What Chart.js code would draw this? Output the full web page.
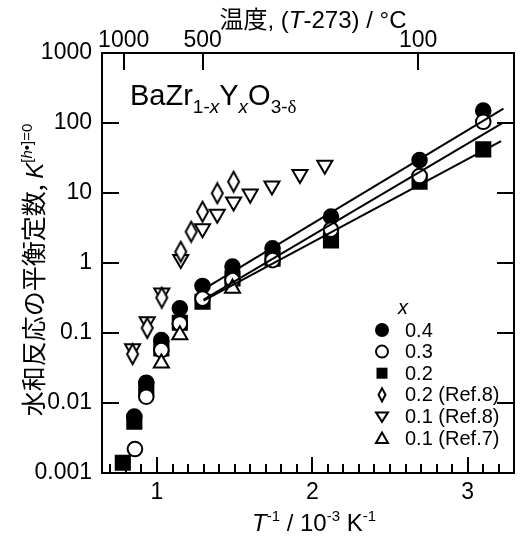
<!DOCTYPE html>
<html>
<head>
<meta charset="utf-8">
<script src="https://cdn.jsdelivr.net/npm/chart.js@4.4.1/dist/chart.umd.min.js"></script>
<style>
  html, body { margin: 0; padding: 0; background: #fff; }
  canvas { display: block; }
</style>
</head>
<body>
<canvas id="chart" width="526" height="538"></canvas>
<script>
const F = '"Liberation Sans", Arial, sans-serif';
const CJK = '"Noto Sans CJK JP", "Liberation Sans", sans-serif';

// axes
const xMin = 0.646, xMax = 3.298;
const xMajor = [1, 2, 3];
const topTempC = [1000, 500, 100];
const yDecades = [0.001, 0.01, 0.1, 1, 10, 100, 1000];

// data: x = 1000/T, K = equilibrium constant
const x04 = [0.854, 0.931, 1.028, 1.147, 1.293, 1.486, 1.744, 2.12, 2.69, 3.10];
const k04 = [0.0064, 0.0195, 0.079, 0.225, 0.47, 0.89, 1.62, 4.6, 29.6, 150];
const x03 = [0.858, 0.931, 1.028, 1.147, 1.293, 1.486, 1.744, 2.12, 2.69, 3.10];
const k03 = [0.0022, 0.0123, 0.057, 0.137, 0.31, 0.57, 1.10, 3.0, 17.5, 104];
const x02 = [0.78, 0.854, 0.931, 1.028, 1.147, 1.293, 1.486, 1.744, 2.12, 2.69, 3.10];
const k02 = [0.0014, 0.0054, 0.016, 0.06, 0.14, 0.28, 0.6, 1.15, 2.1, 14.5, 42];
const x02r8 = [0.843, 0.937, 1.031, 1.153, 1.22, 1.293, 1.388, 1.493];
const k02r8 = [0.05, 0.118, 0.32, 1.45, 2.8, 5.4, 9.9, 14.5];
const x01r8 = [0.843, 0.937, 1.031, 1.153, 1.293, 1.388, 1.493, 1.60, 1.74, 1.92, 2.08];
const k01r8 = [0.06, 0.145, 0.376, 1.13, 3.1, 5.0, 7.5, 9.7, 12.7, 18.5, 25];
const x01r7 = [1.028, 1.147, 1.486];
const k01r7 = [0.037, 0.094, 0.435];

// fitted lines (end points)
const fitX04 = [1.32, 3.23], fitK04 = [0.45, 160];
const fitX03 = [1.30, 3.22], fitK03 = [0.30, 99];
const fitX02 = [1.30, 3.215], fitK02 = [0.29, 55];

const pts = (xs, ks) => xs.map((x, i) => ({ x: x, y: ks[i] }));

function diamondImg(w, h, lw) {
  const c = document.createElement('canvas');
  c.width = w + lw * 2; c.height = h + lw * 2;
  const g = c.getContext('2d');
  const cx = c.width / 2, cy = c.height / 2;
  g.beginPath();
  g.moveTo(cx, cy - h / 2); g.lineTo(cx + w / 2, cy);
  g.lineTo(cx, cy + h / 2); g.lineTo(cx - w / 2, cy);
  g.closePath();
  g.fillStyle = '#fff'; g.fill();
  g.lineWidth = lw; g.strokeStyle = '#000'; g.stroke();
  return c;
}

const pointSet = (label, data, style, fill, radius, rot, order) => ({
  type: 'scatter', label: label, data: data, order: order,
  pointStyle: style, pointRadius: radius, pointRotation: rot || 0,
  backgroundColor: fill, borderColor: '#000', pointBorderWidth: 2, borderWidth: 2
});
const fitLine = (data) => ({
  type: 'line', data: data, order: 0, showLine: true, pointRadius: 0,
  borderColor: '#000', borderWidth: 2, fill: false
});

// legend rows: [marker, label]
const legendRows = [
  ['circleFilled', '0.4'], ['circleOpen', '0.3'], ['square', '0.2'],
  ['diamond', '0.2 (Ref.8)'], ['triDown', '0.1 (Ref.8)'], ['triUp', '0.1 (Ref.7)']
];

function drawMarker(ctx, kind, x, y) {
  ctx.save();
  ctx.lineWidth = 2; ctx.strokeStyle = '#000';
  ctx.beginPath();
  if (kind === 'circleFilled' || kind === 'circleOpen') {
    ctx.arc(x, y, 6, 0, Math.PI * 2);
    ctx.fillStyle = kind === 'circleFilled' ? '#000' : '#fff';
    ctx.fill(); ctx.stroke();
  } else if (kind === 'square') {
    ctx.fillStyle = '#000';
    ctx.fillRect(x - 5.5, y - 5.5, 11, 11);
  } else if (kind === 'diamond') {
    ctx.moveTo(x, y - 6.5); ctx.lineTo(x + 3.5, y); ctx.lineTo(x, y + 6.5); ctx.lineTo(x - 3.5, y);
    ctx.closePath(); ctx.stroke();
  } else if (kind === 'triDown') {
    ctx.moveTo(x - 6, y - 4); ctx.lineTo(x + 6, y - 4); ctx.lineTo(x, y + 5.5);
    ctx.closePath(); ctx.stroke();
  } else {
    ctx.moveTo(x - 6, y + 5); ctx.lineTo(x + 6, y + 5); ctx.lineTo(x, y - 5.5);
    ctx.closePath(); ctx.stroke();
  }
  ctx.restore();
}

// mixed-style text: runs = [text, font, dy]
function drawRuns(ctx, runs, x, y, align) {
  let w = 0;
  runs.forEach(r => { ctx.font = r[1]; w += ctx.measureText(r[0]).width; });
  let cx = align === 'center' ? x - w / 2 : x;
  ctx.textAlign = 'left'; ctx.textBaseline = 'alphabetic';
  runs.forEach(r => {
    ctx.font = r[1];
    ctx.fillText(r[0], cx, y + (r[2] || 0));
    cx += ctx.measureText(r[0]).width;
  });
}

const decor = {
  id: 'decor',
  afterDraw(chart) {
    const ctx = chart.ctx;
    const a = chart.chartArea;
    const sx = chart.scales.x, sy = chart.scales.y, st = chart.scales.xTop;
    ctx.save();
    ctx.strokeStyle = '#000'; ctx.fillStyle = '#000'; ctx.lineWidth = 2;
    ctx.strokeRect(a.left, a.top, a.right - a.left, a.bottom - a.top);

    ctx.beginPath();
    yDecades.slice(1, -1).forEach(v => {
      const py = Math.round(sy.getPixelForValue(v));
      ctx.moveTo(a.left, py); ctx.lineTo(a.left + 17, py);
      ctx.moveTo(a.right, py); ctx.lineTo(a.right - 17, py);
    });
    for (let i = 7; i <= 32; i++) {
      const px = Math.round(sx.getPixelForValue(i / 10));
      const len = i % 10 === 0 ? 16 : 9;
      ctx.moveTo(px, a.bottom); ctx.lineTo(px, a.bottom - len);
    }
    topTempC.forEach(c => {
      const px = Math.round(st.getPixelForValue(1000 / (c + 273)));
      ctx.moveTo(px, a.top); ctx.lineTo(px, a.top + 17);
    });
    ctx.stroke();

    // top title
    drawRuns(ctx, [
      ['温度, (', '24px ' + F + ', ' + CJK],
      ['T', 'italic 24px ' + F],
      ['-273) / °C', '24px ' + F]
    ], 313, 28, 'center');

    // bottom title
    drawRuns(ctx, [
      ['T', 'italic 24px ' + F],
      ['-1', '15px ' + F, -10],
      [' / 10', '24px ' + F],
      ['-3', '15px ' + F, -10],
      [' K', '24px ' + F],
      ['-1', '15px ' + F, -10]
    ], 314, 531, 'center');

    // y title (rotated)
    ctx.save();
    ctx.translate(43, 270);
    ctx.rotate(-Math.PI / 2);
    drawRuns(ctx, [
      ['水和反応の平衡定数, ', '25px ' + CJK],
      ['K', 'italic 24px ' + F],
      ['[', '15px ' + F, -11],
      ['h', 'italic 15px ' + F, -11],
      ['•]=0', '15px ' + F, -11]
    ], 0, 0, 'center');
    ctx.restore();

    // compound label
    drawRuns(ctx, [
      ['BaZr', '29px ' + F],
      ['1-', '19px ' + F, 8],
      ['x', 'italic 19px ' + F, 8],
      ['Y', '29px ' + F],
      ['x', 'italic 19px ' + F, 8],
      ['O', '29px ' + F],
      ['3-', '19px ' + F, 8],
      ['δ', '19px "Liberation Serif", serif', 8]
    ], 130, 105, 'left');

    // legend
    ctx.font = 'italic 20px ' + F;
    ctx.textAlign = 'left'; ctx.textBaseline = 'middle';
    ctx.fillText('x', 398, 308);
    legendRows.forEach((r, i) => {
      const y = 330 + i * 21.6;
      drawMarker(ctx, r[0], 382, y);
      ctx.font = '20px ' + F;
      ctx.textBaseline = 'middle';
      ctx.fillStyle = '#000';
      ctx.fillText(r[1], 405, y + 1);
    });
    ctx.restore();
  }
};

const diamond = diamondImg(11, 20, 2);

new Chart(document.getElementById('chart'), {
  type: 'scatter',
  data: {
    datasets: [
      fitLine(pts(fitX04, fitK04)),
      fitLine(pts(fitX03, fitK03)),
      fitLine(pts(fitX02, fitK02)),
      pointSet('0.1 (Ref.7)', pts(x01r7, k01r7), 'triangle', '#fff', 8.7, 0, 1),
      pointSet('0.3', pts(x03, k03), 'circle', '#fff', 7.3, 0, 2),
      pointSet('0.4', pts(x04, k04), 'circle', '#000', 7.3, 0, 3),
      pointSet('0.2', pts(x02, k02), 'rect', '#000', 10, 0, 4),
      pointSet('0.2 (Ref.8)', pts(x02r8, k02r8), diamond, '#fff', 8, 0, 5),
      pointSet('0.1 (Ref.8)', pts(x01r8, k01r8), 'triangle', '#fff', 8.7, 180, 6)
    ]
  },
  options: {
    responsive: false,
    animation: false,
    layout: { padding: { left: 0, right: 2, top: 0, bottom: 0 } },
    plugins: { legend: { display: false }, tooltip: { enabled: false } },
    scales: {
      x: {
        type: 'linear', position: 'bottom', min: xMin, max: xMax,
        grid: { display: false }, border: { display: false },
        ticks: { color: '#000', font: { family: F, size: 23 }, padding: -2, autoSkip: false, maxRotation: 0,
                 callback: v => String(v) },
        afterBuildTicks: s => { s.ticks = xMajor.map(v => ({ value: v })); },
        afterFit: s => { s.height = 65; }
      },
      xTop: {
        type: 'linear', position: 'top', min: xMin, max: xMax,
        grid: { display: false }, border: { display: false },
        ticks: { color: '#000', font: { family: F, size: 23 }, padding: -9, autoSkip: false, maxRotation: 0,
                 callback: (v, i) => String(topTempC[i]) },
        afterBuildTicks: s => { s.ticks = topTempC.map(c => ({ value: 1000 / (c + 273) })); },
        afterFit: s => { s.height = 53; }
      },
      y: {
        type: 'logarithmic', min: 0.001, max: 1000,
        grid: { display: false }, border: { display: false },
        ticks: { color: '#000', font: { family: F, size: 23 }, padding: 2, autoSkip: false,
                 callback: v => String(v) },
        afterBuildTicks: s => { s.ticks = yDecades.map(v => ({ value: v })); },
        afterFit: s => { s.width = 102; }
      }
    }
  },
  plugins: [decor]
});
</script>
</body>
</html>
